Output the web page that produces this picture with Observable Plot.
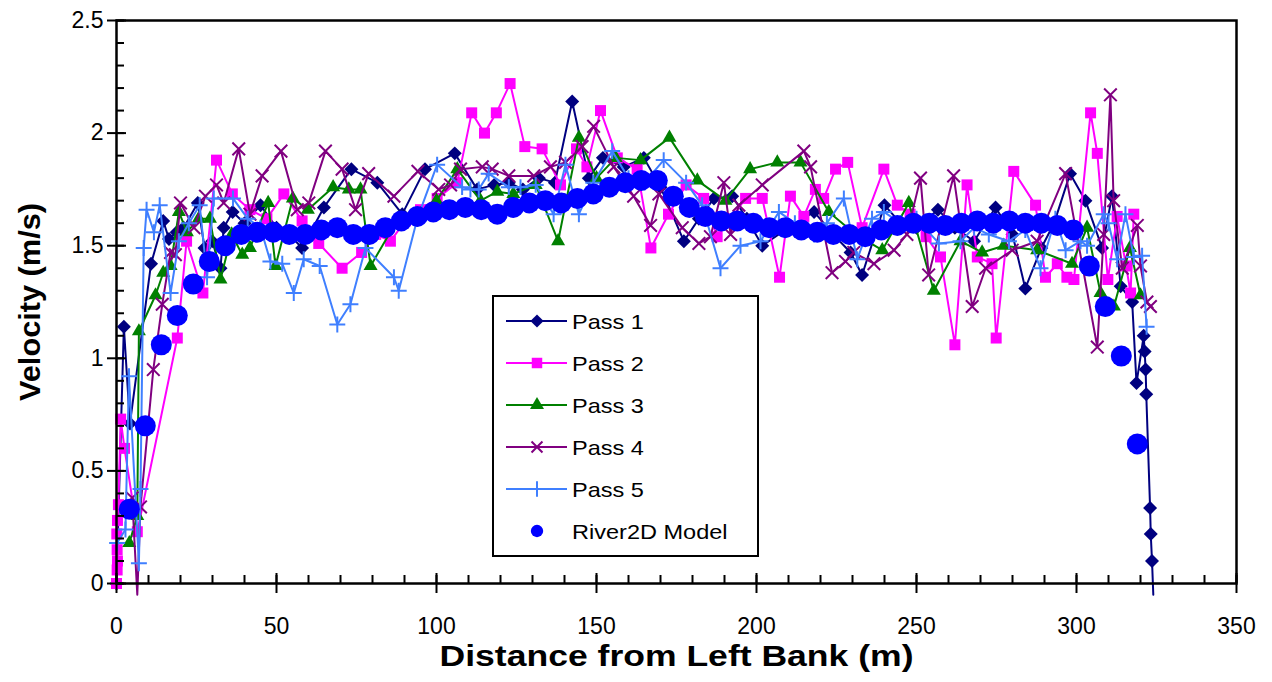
<!DOCTYPE html>
<html><head><meta charset="utf-8">
<script src="https://cdn.jsdelivr.net/npm/d3@7"></script>
<script src="https://cdn.jsdelivr.net/npm/@observablehq/plot@0.6"></script>
<style>
body{margin:0;background:#fff;font-family:"Liberation Sans",Arial,sans-serif;}
#wrap{position:relative;width:1272px;height:682px;}
#legend{position:absolute;left:0;top:0;}
</style></head><body><div id="wrap"></div>
<script>
// ---- Data ----
const seriesNames = ["Pass 1","Pass 2","Pass 3","Pass 4","Pass 5","River2D Model"];
const seriesColors = ["#000080","#FF00FF","#008000","#800080","#3F7FFF","#0000FF"];

const pass1X = [0,2.3,4.2,10.8,14.6,16.4,18.8,21,25.4,27.5,29.9,32.5,33.5,36.3,40,45,50,54,58,64.8,73.4,81.5,89.3,96.4,105.7,112.7,118,122.6,127,132,137,142.4,147.6,152,158.5,164.8,170,177.3,182,186.7,192.4,197,201.8,210,218,224,229.4,233,240,245,250,256.7,262,268,274.7,280,284,289,293,298,302.8,308,311.1,313.8,317.4,318.75,321,321.3,321.6,321.8,323,323.2,323.6,324];
const pass1V = [0,1.14,0.71,1.42,1.61,1.53,1.56,1.58,1.69,1.49,1.52,1.40,1.58,1.65,1.60,1.68,1.58,1.55,1.49,1.67,1.84,1.78,1.64,1.84,1.91,1.75,1.77,1.78,1.75,1.80,1.78,2.14,1.80,1.89,1.85,1.89,1.76,1.52,1.62,1.71,1.72,1.62,1.50,1.58,1.65,1.55,1.47,1.37,1.68,1.60,1.58,1.66,1.58,1.52,1.67,1.55,1.31,1.49,1.60,1.82,1.70,1.49,1.72,1.32,1.25,0.89,1.10,1.03,0.95,0.84,0.335,0.22,0.10,-0.05];

const pass2X = [0,0.2,0.3,0.2,0.1,0.3,0.6,1.3,2.5,6.5,19,21.9,27,31.25,36.2,41.7,47,52.3,58,63.2,70.5,76.6,81,85.6,90.3,95,100.2,106.5,111,115,118.7,123,127.6,133,138.75,143.75,147,151.25,156.5,162.7,167,172.5,178,183.5,187.7,192,196.6,201.8,207.2,210.6,214.8,218.4,221,224.7,228.5,233,239.8,244,248,253,257.5,262,265.8,269,273.6,274.9,280.4,287.2,290.3,294,297,299.2,304.4,306.5,309.8,312.7,315.5,316.9,317.9];
const pass2V = [0,0.06,0.10,0.15,0.22,0.28,0.35,0.73,0.60,0.23,1.09,1.52,1.29,1.88,1.73,1.66,1.62,1.73,1.61,1.51,1.40,1.47,1.55,1.52,1.61,1.66,1.71,1.78,2.09,2.00,2.09,2.22,1.94,1.93,1.77,1.93,1.85,2.10,1.89,1.84,1.49,1.64,1.77,1.71,1.54,1.62,1.71,1.71,1.36,1.72,1.63,1.75,1.71,1.84,1.87,1.58,1.84,1.68,1.64,1.54,1.45,1.06,1.77,1.45,1.42,1.09,1.83,1.68,1.36,1.42,1.36,1.35,2.09,1.91,1.35,1.63,1.41,1.29,1.64];

const pass3X = [4,6.5,7,12.2,14.6,16.9,19.5,22,25.7,29.2,32.5,36,39.3,41.7,47.4,49.7,55.1,59.8,67.7,72.6,76.25,79.4,88,95,100,106.5,113.75,119,124,131,138,144.5,150,156,163.75,172.8,181.5,190.3,198,206.5,213.75,222.6,231,239.3,247.6,255.4,263.75,270.5,277.3,287.7,298.6,303.3,307.5,311.7,316.7,320];
const pass3V = [0.18,0.30,1.12,1.28,1.38,1.41,1.65,1.56,1.62,1.62,1.35,1.55,1.46,1.49,1.69,1.41,1.71,1.66,1.76,1.75,1.75,1.41,1.62,1.64,1.70,1.84,1.70,1.74,1.73,1.77,1.52,1.98,1.80,1.89,1.88,1.98,1.79,1.70,1.84,1.87,1.87,1.65,1.55,1.48,1.69,1.30,1.52,1.47,1.50,1.48,1.42,1.58,1.29,1.23,1.49,1.28];

const pass4X = [4.9,6.5,7.5,11.5,14.3,16.9,18.4,20,24.2,27.8,31.25,33.5,38.2,41.7,45.5,51.4,56.5,60.1,65.3,70.5,74.7,78.8,86.7,94.2,100.7,104.4,107.5,114.3,117.4,122.6,130.4,135.6,140.3,145.5,149.1,155.4,161.6,166.9,169.5,176.8,182,185.6,189.8,191.9,194.5,201.8,214.8,216.9,223.6,227.8,230.4,236.7,243,247,251.25,253.8,261.6,267.4,271.6,279.9,287.7,296.6,306.5,308.5,310.6,311.6,314.3,319,320,322,323.1];
const pass4V = [0.38,-0.05,0.34,0.95,1.24,1.47,1.46,1.69,1.58,1.72,1.77,1.69,1.93,1.64,1.81,1.92,1.66,1.69,1.92,1.84,1.66,1.82,1.72,1.83,1.75,1.77,1.84,1.85,1.84,1.81,1.81,1.85,1.87,1.94,2.03,1.85,1.72,1.59,1.73,1.58,1.51,1.54,1.78,1.55,1.68,1.77,1.92,1.85,1.38,1.43,1.47,1.42,1.48,1.55,1.80,1.37,1.81,1.23,1.40,1.48,1.52,1.82,1.05,1.55,2.17,1.70,1.40,1.59,1.41,1.25,1.23];

const pass5X = [0.2,2.8,3.9,7,7.5,8.5,9.4,11.7,13.5,16.9,19.5,22.6,26,28.3,30.4,36.4,41,45,48.1,51.8,55.4,58.5,63.5,69,73.1,77.8,86.7,88.2,94,100.2,108,110.6,113.2,116.3,122.6,126.25,131,136.6,140.3,144.5,149,154.9,160,165,171,178,183,188.75,195,201.25,207,212,218,222,227.3,231.5,236.1,239.8,245,250,257,263.75,268,272.6,278.9,284,288.75,293.4,296.6,301.25,303.3,308.5,310,312.7,315.3,317.9,320.5,321.9];
const pass5V = [0.18,0.24,0.92,0.09,0.42,1.49,1.66,1.56,1.68,1.29,1.52,1.60,1.68,1.36,1.71,1.71,1.62,1.58,1.43,1.42,1.29,1.44,1.41,1.15,1.24,1.49,1.36,1.30,1.62,1.86,1.76,1.75,1.75,1.82,1.76,1.76,1.77,1.64,1.86,1.64,1.78,1.92,1.80,1.78,1.88,1.78,1.68,1.40,1.50,1.52,1.65,1.60,1.55,1.60,1.71,1.44,1.62,1.65,1.60,1.62,1.51,1.52,1.58,1.55,1.52,1.57,1.40,1.62,1.48,1.52,1.50,1.64,1.60,1.44,1.64,1.45,1.455,1.14];

const modelX = [4,9,14,19,24,29,34,39,44,49,54,59,64,69,74,79,84,89,94,99,104,109,114,119,124,129,134,139,144,149,154,159,164,169,174,179,184,189,194,199,204,209,214,219,224,229,234,239,244,249,254,259,264,269,274,279,284,289,294,299,304,309,314,319];
const modelV = [0.33,0.70,1.06,1.19,1.33,1.43,1.50,1.55,1.56,1.56,1.55,1.55,1.57,1.58,1.55,1.55,1.58,1.61,1.63,1.65,1.66,1.67,1.66,1.64,1.67,1.69,1.70,1.69,1.71,1.73,1.76,1.78,1.79,1.79,1.72,1.67,1.63,1.61,1.61,1.60,1.58,1.58,1.57,1.56,1.55,1.55,1.54,1.57,1.59,1.60,1.60,1.59,1.60,1.61,1.60,1.61,1.60,1.60,1.59,1.57,1.41,1.23,1.01,0.62];

const xTicks = [0,50,100,150,200,250,300,350];
const xMinor = d3.range(0,351,10);
const yTicks = [0,0.5,1,1.5,2,2.5];
const yMinor = d3.range(0,26).map(i => i/10);

// ---- Build ----
const W = 1272, H = 682, mL = 116, mR = 36, mT = 20, mB = 99;
const fw = W - mL - mR, fh = H - mT - mB;
const toRows = (xs, vs) => xs.map((x, i) => ({x, v: vs[i]}));
const passes = [
  {rows: toRows(pass1X, pass1V), color: seriesColors[0], symbol: "diamond2", r: 6.3, filled: true},
  {rows: toRows(pass2X, pass2V), color: seriesColors[1], symbol: "square", r: 6.2, filled: true},
  {rows: toRows(pass3X, pass3V), color: seriesColors[2], symbol: "triangle", r: 5.2, filled: true},
  {rows: toRows(pass4X, pass4V), color: seriesColors[3], symbol: "times", r: 5.8, filled: false},
  {rows: toRows(pass5X, pass5V), color: seriesColors[4], symbol: "plus", r: 5.2, filled: false}
];
const model = toRows(modelX, modelV);

const marks = [];
for (const p of passes) {
  marks.push(Plot.line(p.rows, {x: "x", y: "v", stroke: p.color, strokeWidth: 2}));
  const shown = p.rows.filter(d => d.v >= 0);
  marks.push(Plot.dot(shown, p.filled
    ? {x: "x", y: "v", symbol: p.symbol, r: p.r, fill: p.color, stroke: "none"}
    : {x: "x", y: "v", symbol: p.symbol, r: p.r, stroke: p.color, strokeWidth: 2, fill: "none"}));
}
marks.push(Plot.dot(model, {x: "x", y: "v", r: 10.5, fill: seriesColors[5], stroke: "none"}));
marks.push(Plot.tickX(xMinor, {x: d => d, insetTop: fh - 8, stroke: "black", strokeWidth: 2}));
marks.push(Plot.tickY(yMinor, {y: d => d, insetRight: fw - 8, stroke: "black", strokeWidth: 2}));
marks.push(Plot.tickX(xTicks, {x: d => d, insetTop: fh - 10, stroke: "black", strokeWidth: 2}));
marks.push(Plot.tickY(yTicks, {y: d => d, insetRight: fw - 10, stroke: "black", strokeWidth: 2}));
marks.push(Plot.axisX({ticks: xTicks, tickSize: 10, tickPadding: 24, fontSize: 23, strokeWidth: 2, tickFormat: d => String(d), label: null}));
marks.push(Plot.axisY({ticks: yTicks, tickSize: 9, tickPadding: 4, fontSize: 23, strokeWidth: 2, tickFormat: d => String(d), label: null}));
marks.push(Plot.frame({stroke: "black", strokeWidth: 2.5}));
marks.push(Plot.text(["Distance from Left Bank (m)"], {frameAnchor: "bottom", dy: 82, fontSize: 30, fontWeight: "bold", fill: "black", className: "xtitle"}));
marks.push(Plot.text(["Velocity (m/s)"], {frameAnchor: "left", dx: -86, rotate: -90, textAnchor: "middle", fontSize: 30, fontWeight: "bold", fill: "black", className: "ytitle"}));

const chart = Plot.plot({
  width: W, height: H,
  marginLeft: mL, marginRight: mR, marginTop: mT, marginBottom: mB,
  x: {domain: [0, 350]},
  y: {domain: [0, 2.5]},
  style: {fontFamily: "'Liberation Sans', Arial, sans-serif", background: "white", color: "black", overflow: "visible"},
  marks
});
document.getElementById("wrap").appendChild(chart);
// widen the axis titles to the reference's proportions (text stays real text)
d3.select(chart).selectAll(".xtitle text").attr("textLength", 474).attr("lengthAdjust", "spacingAndGlyphs");
d3.select(chart).selectAll(".ytitle text").attr("textLength", 198).attr("lengthAdjust", "spacingAndGlyphs");

// ---- Legend ----
const lg = d3.select("#wrap").append("svg").attr("id", "legend")
  .attr("width", W).attr("height", H).style("position", "absolute").style("left", 0).style("top", 0).style("pointer-events", "none");
lg.append("rect").attr("x", 493).attr("y", 296).attr("width", 265).attr("height", 260)
  .attr("fill", "white").attr("stroke", "black").attr("stroke-width", 2);
const legSym = [
  {sym: d3.symbolDiamond2, size: 110, filled: true},
  {sym: d3.symbolSquare, size: 110, filled: true},
  {sym: d3.symbolTriangle, size: 85, filled: true},
  {sym: d3.symbolTimes, size: 80, filled: false},
  {sym: d3.symbolPlus, size: 80, filled: false},
  {sym: d3.symbolCircle, size: 120, filled: true}
];
seriesNames.forEach((name, i) => {
  const cy = 321 + i * 42;
  const g = lg.append("g");
  if (i < 5) g.append("line").attr("x1", 506).attr("x2", 567).attr("y1", cy).attr("y2", cy).attr("stroke", seriesColors[i]).attr("stroke-width", 2);
  const s = legSym[i];
  g.append("path").attr("d", d3.symbol(s.sym, s.size)()).attr("transform", `translate(537,${cy})`)
    .attr("fill", s.filled ? seriesColors[i] : "none").attr("stroke", s.filled ? "none" : seriesColors[i]).attr("stroke-width", 2);
  const t = g.append("text").attr("x", 572).attr("y", cy).attr("dy", "0.36em").attr("font-size", 21)
    .attr("font-family", "'Liberation Sans', Arial, sans-serif").attr("fill", "black").text(name);
  const len = t.node().getComputedTextLength();
  t.attr("textLength", len * 1.12).attr("lengthAdjust", "spacingAndGlyphs");
});
</script></body></html>
